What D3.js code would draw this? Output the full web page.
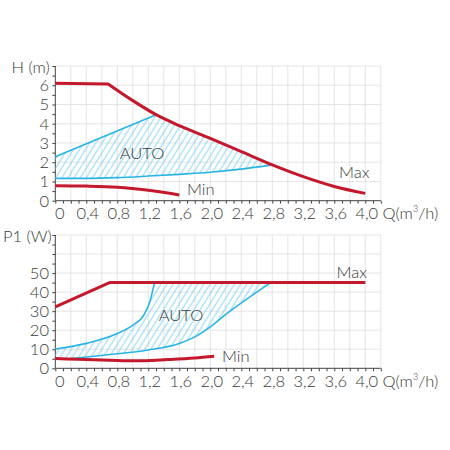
<!DOCTYPE html>
<html>
<head>
<meta charset="utf-8">
<script src="https://cdn.jsdelivr.net/npm/d3@7"></script>
<style>
  body { margin: 0; background: #fff; }
  text { font-family: Lato, 'Open Sans', sans-serif; font-weight: 300; fill: #3a3a3a; }
</style>
</head>
<body>
<svg width="450" height="450"></svg>
<script>
'use strict'

// Q ticks (m3/h)
const qTicks = [0, 0.4, 0.8, 1.2, 1.6, 2.0, 2.4, 2.8, 3.2, 3.6, 4.0]
const hTicks = [0, 1, 2, 3, 4, 5, 6]
const pTicks = [0, 10, 20, 30, 40, 50]

// head curves [Q, H]
const hMaxFlat = [[0, 6.1], [0.68, 6.07]]
const hMax = [[0.68, 6.07], [1.0, 5.2], [1.3, 4.47], [1.6, 3.9], [2.0, 3.24], [2.4, 2.55], [2.8, 1.86], [3.2, 1.25], [3.6, 0.74], [4.0, 0.38]]
const hMin = [[0, 0.78], [0.4, 0.76], [0.8, 0.7], [1.2, 0.54], [1.6, 0.3]]
const hAutoTop = [[0, 2.28], [1.3, 4.47]]
const hAutoBottom = [[0, 1.16], [0.4, 1.16], [0.8, 1.2], [1.2, 1.28], [1.6, 1.37], [2.0, 1.48], [2.4, 1.64], [2.8, 1.86]]

// power curves [Q, P1]
const pMax = [[0, 32.3], [0.7, 45], [4.0, 45]]
const pMin = [[0, 5.1], [0.3, 4.7], [0.6, 4.3], [1.0, 3.9], [1.45, 4.6], [1.8, 5.4], [2.05, 6.3]]
const pAutoTop = [[0, 10.1], [0.4, 13.1], [0.8, 18.3], [1.0, 22.7], [1.15, 28.5], [1.22, 35], [1.28, 45]]
const pAutoBottom = [[0.15, 4.8], [0.4, 5.9], [0.8, 7.6], [1.2, 9.6], [1.6, 13], [1.8, 16.5], [2.0, 21.8], [2.2, 28.3], [2.78, 45]]

const red = '#c4182c'
const blue = '#29b4e6'

const svg = d3.select('svg')

const x = d3.scaleLinear().domain([0, 4.2]).range([55.3, 380.8])
const yH = d3.scaleLinear().domain([0, 7]).range([200.7, 66])
const yP = d3.scaleLinear().domain([0, 70]).range([368.3, 235])

const defs = svg.append('defs')
defs.append('pattern')
  .attr('id', 'hatch')
  .attr('patternUnits', 'userSpaceOnUse')
  .attr('width', 5.2)
  .attr('height', 10)
  .attr('patternTransform', 'rotate(32)')
  .append('line')
  .attr('x1', 1).attr('y1', 0).attr('x2', 1).attr('y2', 10)
  .attr('stroke', '#6ccdf2')
  .attr('stroke-width', 0.85)

function panel(y, yTicks, minorStep, gridStep, title, titleX, titleY) {
  const g = svg.append('g')
  const [y0, y1] = y.domain()

  // grid
  g.selectAll('.vg')
    .data(d3.range(0.2, 4.21, 0.2))
    .join('line')
    .attr('x1', d => x(d)).attr('x2', d => x(d))
    .attr('y1', y(y0)).attr('y2', y(y1))
    .attr('stroke', '#dedede').attr('stroke-width', 0.8)
  g.selectAll('.hg')
    .data(d3.range(gridStep, y1 + 0.01, gridStep))
    .join('line')
    .attr('x1', x(0)).attr('x2', x(4.2))
    .attr('y1', d => y(d)).attr('y2', d => y(d))
    .attr('stroke', '#dedede').attr('stroke-width', 0.8)

  // x axis
  g.append('g')
    .attr('transform', 'translate(0,' + y(0) + ')')
    .call(d3.axisBottom(x).tickValues(d3.range(0, 4.21, 0.1)).tickSize(3).tickFormat(''))
    .call(a => a.select('.domain').attr('stroke', '#444').attr('d', 'M' + x(0) + ',0H' + x(4.2)))
    .call(a => a.selectAll('.tick line').attr('stroke', '#444'))

  g.selectAll('.xl')
    .data(qTicks)
    .join('text')
    .attr('x', d => x(d) + (d === 0 ? 4.5 : 1.5))
    .attr('y', y(0) + 18.5)
    .attr('text-anchor', 'middle')
    .attr('font-size', 16.5)
    .text(d => d === 0 ? '0' : d3.format('.1f')(d).replace('.', ','))

  const qt = g.append('text')
    .attr('x', 382.5).attr('y', y(0) + 18.5)
    .attr('font-size', 16.5)
  qt.append('tspan').text('Q(m')
  qt.append('tspan').attr('font-size', 9).attr('dy', -7).text('3')
  qt.append('tspan').attr('dy', 7).text('/h)')

  // y axis
  g.append('g')
    .attr('transform', 'translate(' + x(0) + ',0)')
    .call(d3.axisLeft(y).tickValues(d3.range(0, y1 + 0.01, minorStep)).tickSize(3).tickFormat(''))
    .call(a => a.select('.domain').attr('stroke', '#444').attr('d', 'M0,' + y(0) + 'V' + y(y1)))
    .call(a => a.selectAll('.tick line').attr('stroke', '#444'))

  g.selectAll('.yl')
    .data(yTicks)
    .join('text')
    .attr('x', 49)
    .attr('y', d => y(d) + 6)
    .attr('text-anchor', 'end')
    .attr('font-size', 16.5)
    .text(d => d)

  g.append('text')
    .attr('x', titleX)
    .attr('y', titleY)
    .attr('font-size', 16.5)
    .text(title)

  return g
}

panel(yH, hTicks, 0.5, 1, 'H (m)', 11.5, 72.5)
panel(yP, pTicks, 5, 10, 'P1 (W)', 3, 241.5)

function lineFor(y, curve) {
  return d3.line().x(d => x(d[0])).y(d => y(d[1])).curve(curve || d3.curveMonotoneX)
}

// ---- top chart: H
const lH = lineFor(yH)
const lHlin = lineFor(yH, d3.curveLinear)

const maxSub = hMax.filter(d => d[0] >= 1.3 && d[0] <= 2.8)
const topArea = lHlin(hAutoTop) +
  lH(maxSub).replace(/^M/, 'L') +
  lH(hAutoBottom.slice().reverse()).replace(/^M/, 'L') + 'Z'

svg.append('path').attr('d', topArea).attr('fill', 'url(#hatch)')

svg.append('path').attr('d', lHlin(hAutoTop))
  .attr('fill', 'none').attr('stroke', blue).attr('stroke-width', 1.6)
svg.append('path').attr('d', lH(hAutoBottom))
  .attr('fill', 'none').attr('stroke', blue).attr('stroke-width', 1.6)

svg.append('path').attr('d', lHlin(hMaxFlat) + lH(hMax).replace(/^M/, 'L'))
  .attr('fill', 'none').attr('stroke', red).attr('stroke-width', 3)
  .attr('stroke-linejoin', 'round')
svg.append('path').attr('d', lH(hMin))
  .attr('fill', 'none').attr('stroke', red).attr('stroke-width', 3)

svg.append('text').attr('x', 142).attr('y', 159).attr('text-anchor', 'middle')
  .attr('font-size', 16.5).text('AUTO')
svg.append('text').attr('x', 187).attr('y', 195).attr('font-size', 16.5).text('Min')
svg.append('text').attr('x', 339).attr('y', 178).attr('font-size', 16.5).text('Max')

// ---- bottom chart: P1
const lP = lineFor(yP)
const lPlin = lineFor(yP, d3.curveLinear)

const minSub = pMin.filter(d => d[0] <= 0.15)
const botArea = lP(pAutoTop) +
  lPlin([[1.28, 45], [2.78, 45]]).replace(/^M/, 'L') +
  lP(pAutoBottom.slice().reverse()).replace(/^M/, 'L') +
  lPlin(minSub.concat([[0.15, 4.8]]).reverse()).replace(/^M/, 'L') + 'Z'

svg.append('path').attr('d', botArea).attr('fill', 'url(#hatch)')

svg.append('path').attr('d', lP(pAutoTop))
  .attr('fill', 'none').attr('stroke', blue).attr('stroke-width', 1.6)
svg.append('path').attr('d', lP(pAutoBottom))
  .attr('fill', 'none').attr('stroke', blue).attr('stroke-width', 1.6)

svg.append('path').attr('d', lPlin(pMax))
  .attr('fill', 'none').attr('stroke', red).attr('stroke-width', 3)
  .attr('stroke-linejoin', 'round')
svg.append('path').attr('d', lP(pMin))
  .attr('fill', 'none').attr('stroke', red).attr('stroke-width', 3)

svg.append('text').attr('x', 181).attr('y', 321).attr('text-anchor', 'middle')
  .attr('font-size', 16.5).text('AUTO')
svg.append('text').attr('x', 222).attr('y', 361.5).attr('font-size', 16.5).text('Min')
svg.append('text').attr('x', 336.5).attr('y', 277.5).attr('font-size', 16.5).text('Max')
</script>
</body>
</html>
